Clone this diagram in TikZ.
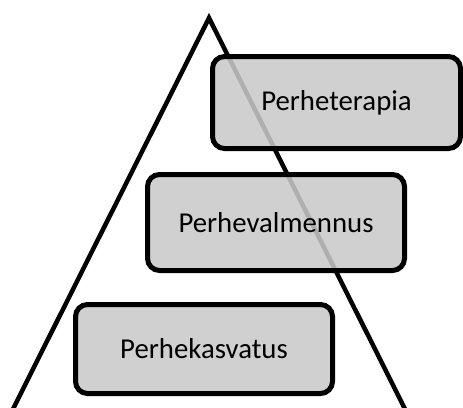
\documentclass[tikz,border=0pt]{standalone}
\usepackage{fontspec}
\setmainfont{Carlito}
\tikzset{
  taso/.style={draw, line width=5pt, rounded corners=12pt, fill=black!21,
    fill opacity=0.875, draw opacity=1, text opacity=1, inner sep=0pt,
    font=\fontsize{28.8}{34}\selectfont}
}
\begin{document}
\begin{tikzpicture}[x=1pt, y=-1pt, line width=4.5pt]
  \useasboundingbox (0,0) rectangle (463,407);
  \clip (0,0) rectangle (463,407);
  % sides of the pyramid, running off the bottom edge
  \coordinate (huippu) at (209,18);
  \coordinate (vasen) at (5,425);
  \coordinate (oikea) at (413,425);
  \draw[miter limit=10] (vasen) -- (huippu) -- (oikea);
  % the three levels, lowest last
  \node[taso, minimum width=248pt, minimum height=92pt] (terapia) at (336.5,102.5) {Perheterapia};
  \node[taso, minimum width=257pt, minimum height=96pt] (valmennus) at (276,222.5) {Perhevalmennus};
  \node[taso, minimum width=257pt, minimum height=89pt] (kasvatus) at (204,349) {Perhekasvatus};
\end{tikzpicture}
\end{document}
